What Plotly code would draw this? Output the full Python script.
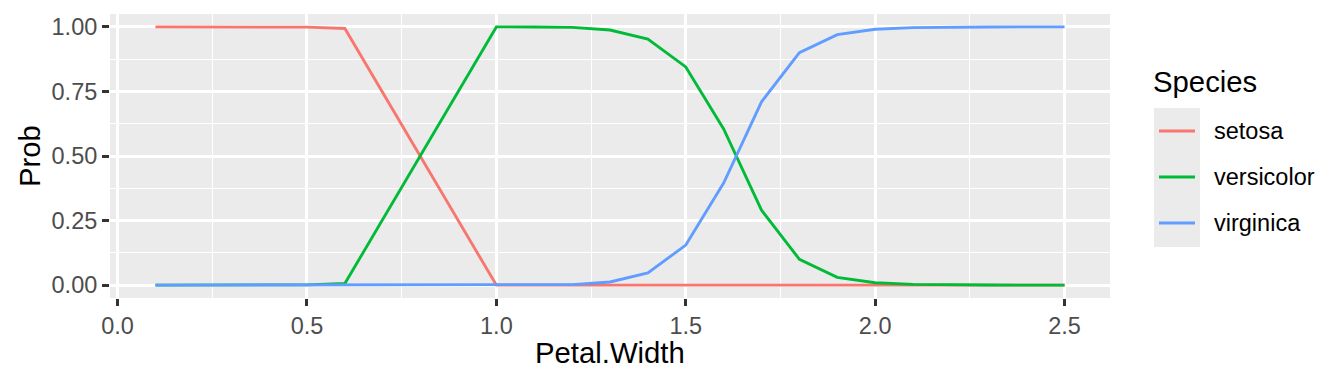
import plotly.graph_objects as go

# ---- data ----
petal_width = [0.1, 0.2, 0.3, 0.4, 0.5, 0.6, 1.0, 1.1, 1.2, 1.3, 1.4, 1.5, 1.6,
               1.7, 1.8, 1.9, 2.0, 2.1, 2.2, 2.3, 2.4, 2.5]
setosa = [1.0, 1.0, 1.0, 1.0, 0.999, 0.994, 0.0, 0.0, 0.0, 0.0, 0.0, 0.0, 0.0,
          0.0, 0.0, 0.0, 0.0, 0.0, 0.0, 0.0, 0.0, 0.0]
versicolor = [0.0, 0.0, 0.0, 0.0, 0.001, 0.006, 1.0, 0.9997, 0.998, 0.988, 0.953, 0.845,
              0.605, 0.29, 0.10, 0.03, 0.009, 0.003, 0.001, 0.0003, 0.0001, 0.0]
virginica = [0.0, 0.0, 0.0, 0.0, 0.0, 0.0, 0.0, 0.0003, 0.002, 0.012, 0.047, 0.155,
             0.395, 0.71, 0.90, 0.97, 0.991, 0.997, 0.999, 0.9997, 0.9999, 1.0]
species = ["setosa", "versicolor", "virginica"]
colors = ["#F8766D", "#00BA38", "#619CFF"]
x_ticks = [0.0, 0.5, 1.0, 1.5, 2.0, 2.5]
y_ticks = [0.0, 0.25, 0.5, 0.75, 1.0]

series = [setosa, versicolor, virginica]

OFF = 8  # default body margin of the page
W, H = 1344 - 2 * OFF, 384 - 2 * OFF
# panel pixel box in page coordinates, converted to figure coordinates
L, R, T, B = 110 - OFF, 1110 - OFF, 14 - OFF, 298 - OFF
FONT = "Liberation Sans, Arial, Helvetica, sans-serif"
LW = 2.85

fig = go.Figure()
for name, vals, col in zip(species, series, colors):
    fig.add_trace(go.Scatter(x=petal_width, y=vals, mode="lines", name=name,
                             line=dict(color=col, width=LW), showlegend=False))

def px_x(p):
    return (p - OFF - L) / (R - L)

def px_y(p):
    return (B - (p - OFF)) / (B - T)

axis_common = dict(
    showgrid=True, gridcolor="white", gridwidth=LW, zeroline=False,
    ticks="outside", ticklen=7, tickwidth=LW, tickcolor="#333333",
    tickfont=dict(family=FONT, size=23.5, color="#4D4D4D"),
    showline=False, fixedrange=True,
)

fig.update_xaxes(range=[-0.02, 2.62], tickvals=x_ticks,
                 ticktext=[f"{v:.1f}" for v in x_ticks],
                 minor=dict(tickvals=[0.25, 0.75, 1.25, 1.75, 2.25],
                            showgrid=True, gridcolor="white", gridwidth=1.4,
                            ticks=""),
                 **axis_common)
fig.update_yaxes(range=[-0.05, 1.05], tickvals=y_ticks,
                 ticktext=[f"{v:.2f}" for v in y_ticks],
                 minor=dict(tickvals=[0.125, 0.375, 0.625, 0.875],
                            showgrid=True, gridcolor="white", gridwidth=1.4,
                            ticks=""),
                 **axis_common)

annotations = [
    dict(text="Petal.Width", xref="paper", yref="paper", x=0.5, y=px_y(352),
         showarrow=False, font=dict(family=FONT, size=29.3, color="black"),
         xanchor="center", yanchor="middle"),
    dict(text="Prob", xref="paper", yref="paper", x=px_x(29), y=0.5, textangle=-90,
         showarrow=False, font=dict(family=FONT, size=29.3, color="black"),
         xanchor="center", yanchor="middle"),
    dict(text="Species", xref="paper", yref="paper", x=px_x(1151), y=px_y(81),
         showarrow=False, font=dict(family=FONT, size=29.3, color="black"),
         xanchor="left", yanchor="middle"),
]
shapes = [
    dict(type="rect", xref="paper", yref="paper", x0=px_x(1154), x1=px_x(1200),
         y0=px_y(247), y1=px_y(108), fillcolor="#EBEBEB", line=dict(width=0), layer="below"),
]
row_y = [131, 177, 223]
for name, col, ry in zip(species, colors, row_y):
    shapes.append(dict(type="line", xref="paper", yref="paper", x0=px_x(1159), x1=px_x(1195),
                       y0=px_y(ry), y1=px_y(ry), line=dict(color=col, width=LW)))
    annotations.append(dict(text=name, xref="paper", yref="paper", x=px_x(1212), y=px_y(ry),
                            showarrow=False, font=dict(family=FONT, size=23.5, color="black"),
                            xanchor="left", yanchor="middle"))

fig.update_layout(
    width=W, height=H, autosize=False,
    margin=dict(l=L, r=W - R, t=T, b=H - B, pad=0),
    paper_bgcolor="white", plot_bgcolor="#EBEBEB",
    annotations=annotations, shapes=shapes, showlegend=False,
    font=dict(family=FONT),
)

fig.write_html("out.html", config={"displayModeBar": False})
